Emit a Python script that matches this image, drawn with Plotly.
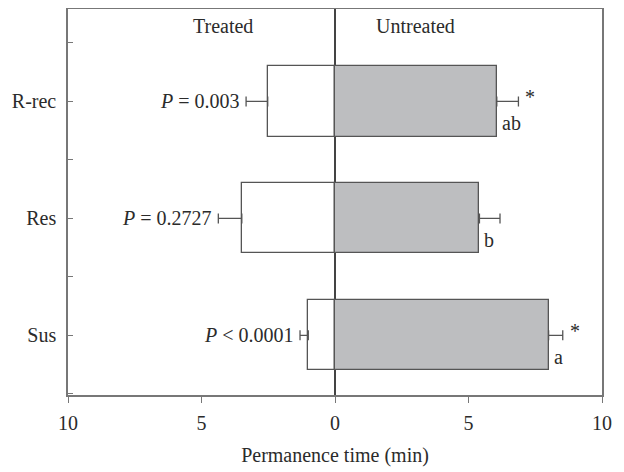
import plotly.graph_objects as go

categories = ["Sus", "Res", "R-rec"]
treated = [1.0, 3.49, 2.52]
treated_err = [0.31, 0.88, 0.81]
untreated = [8.0, 5.41, 6.06]
untreated_err = [0.53, 0.77, 0.81]
p_labels = ["<i>P</i> < 0.0001", "<i>P</i> = 0.2727", "<i>P</i> = 0.003"]
letters = ["a", "b", "ab"]
stars = ["*", "", "*"]
x_tickvals = [-10, -5, 0, 5, 10]
x_ticktext = ["10", "5", "0", "5", "10"]

FONT = "Liberation Serif, Times New Roman, serif"
TXT = "#2b2b2b"
EDGE = "#555555"
FS = 20
ypos = list(range(len(categories)))

fig = go.Figure()
fig.add_trace(go.Bar(
    y=ypos, x=[-v for v in treated], orientation="h", width=0.6,
    marker=dict(color="white", line=dict(color=EDGE, width=1.3)),
    error_x=dict(type="data", symmetric=False, array=[0] * len(treated),
                 arrayminus=treated_err, color=EDGE, thickness=1.3, width=5),
    name="Treated", showlegend=False,
))
fig.add_trace(go.Bar(
    y=ypos, x=untreated, orientation="h", width=0.6,
    marker=dict(color="#bdbec0", line=dict(color=EDGE, width=1.3)),
    error_x=dict(type="data", symmetric=False, array=untreated_err,
                 arrayminus=[0] * len(untreated), color=EDGE, thickness=1.3, width=5),
    name="Untreated", showlegend=False,
))

ann = []
for i in ypos:
    ann.append(dict(x=-(treated[i] + treated_err[i]), y=i, text=p_labels[i],
                    xanchor="right", yanchor="middle", xshift=-4, showarrow=False))
    ann.append(dict(x=untreated[i], y=i, text=letters[i], xanchor="left",
                    yanchor="middle", xshift=3, yshift=-22, showarrow=False))
    if stars[i]:
        ann.append(dict(x=untreated[i] + untreated_err[i], y=i, text=stars[i],
                        xanchor="left", yanchor="middle", xshift=5, yshift=4,
                        showarrow=False))
ann.append(dict(x=-4.2, y=2.645, text="Treated", showarrow=False,
                xanchor="center", yanchor="middle"))
ann.append(dict(x=3.0, y=2.645, text="Untreated", showarrow=False,
                xanchor="center", yanchor="middle"))

fig.update_layout(
    width=624, height=472,
    margin=dict(l=60, r=30, t=1, b=85, autoexpand=False),
    paper_bgcolor="white", plot_bgcolor="white",
    barmode="overlay", bargap=0,
    font=dict(family=FONT, size=FS, color=TXT),
    annotations=ann,
    xaxis=dict(range=[-10, 10], tickvals=x_tickvals, ticktext=x_ticktext,
               ticks="outside", ticklen=6, tickcolor="#777", tickwidth=1.3,
               showline=True, mirror=True, linecolor="#777", linewidth=1.5,
               showgrid=False, zeroline=True, zerolinecolor="#444", zerolinewidth=1.5,
               title=dict(text="Permanence time (min)", standoff=15,
                          font=dict(size=FS, family=FONT, color=TXT)),
               ticklabelstandoff=3, tickfont=dict(size=FS), automargin=False),
    yaxis=dict(range=[-0.51, 2.79], tickvals=ypos, ticktext=categories,
               ticks="inside", ticklen=5, tickcolor="#777", tickwidth=1.3,
               minor=dict(tickvals=[-0.5, 0.5, 1.5, 2.5], ticks="inside",
                          ticklen=5, tickcolor="#777", tickwidth=1.3),
               showline=True, mirror=True, linecolor="#777", linewidth=1.5,
               showgrid=False, zeroline=False, ticklabelstandoff=6,
               tickfont=dict(size=FS), automargin=False),
)

fig.write_html("out.html")
